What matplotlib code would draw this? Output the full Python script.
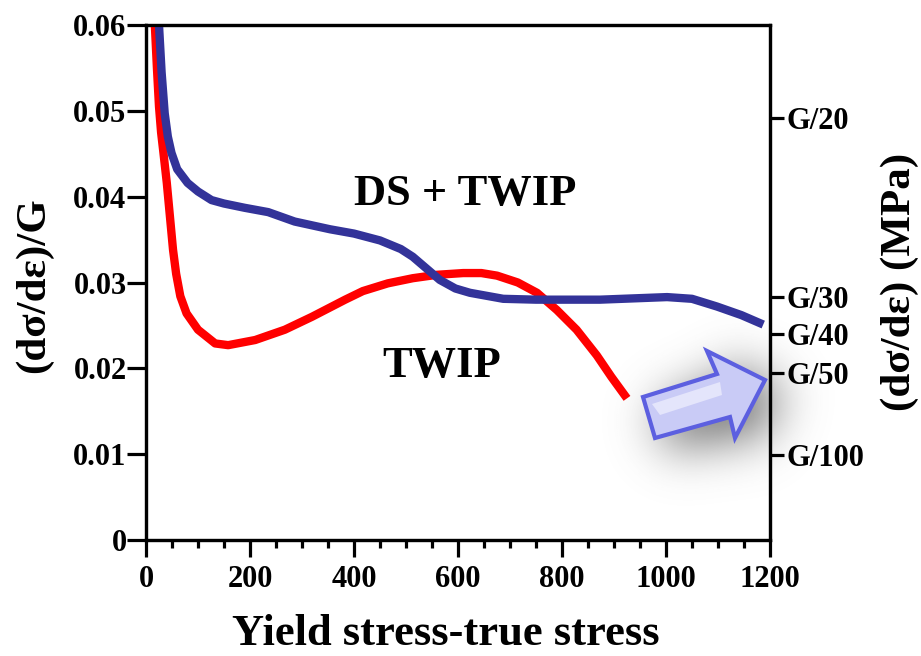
import numpy as np
import matplotlib
matplotlib.use("Agg")
import matplotlib.pyplot as plt
from matplotlib.path import Path
from matplotlib.patches import Polygon
from matplotlib.ticker import MultipleLocator

# ---- data ----
red_x = [17, 21, 25, 29, 33, 40, 46, 52, 58, 66, 78, 100, 133, 158, 210, 267, 319, 383, 417,
         465, 513, 560, 610, 645, 675, 715, 752, 790, 828, 867, 895, 925]
red_y = [0.060, 0.055, 0.0505, 0.0475, 0.0454, 0.0416, 0.0377, 0.0338, 0.0310, 0.0284, 0.0264,
         0.0245, 0.0229, 0.0227, 0.0233, 0.0245, 0.0260, 0.0280, 0.0290, 0.0299, 0.0305,
         0.0309, 0.0311, 0.0311, 0.0308, 0.0300, 0.0288, 0.0268, 0.0245, 0.0215, 0.0190, 0.0165]

blue_x = [25, 30, 36, 42, 49, 60, 80, 100, 126, 150, 190, 235, 286, 354, 400, 450, 490, 513,
          540, 565, 595, 623, 687, 750, 873, 1002, 1050, 1098, 1145, 1187]
blue_y = [0.060, 0.0545, 0.0497, 0.0470, 0.0451, 0.0432, 0.0416, 0.0406, 0.0396, 0.0392,
          0.0387, 0.0382, 0.0371, 0.0362, 0.0357, 0.0349, 0.0339, 0.0330, 0.0316, 0.0303, 0.0293,
          0.0288, 0.0281, 0.0280, 0.0280, 0.0283, 0.0281, 0.0272, 0.0262, 0.0251]

x_ticks = [0, 200, 400, 600, 800, 1000, 1200]
y_ticks = [0, 0.01, 0.02, 0.03, 0.04, 0.05, 0.06]
y_tick_labels = ["0", "0.01", "0.02", "0.03", "0.04", "0.05", "0.06"]
right_tick_pos = [0.0492, 0.0283, 0.0240, 0.0195, 0.0099]
right_tick_labels = ["G/20", "G/30", "G/40", "G/50", "G/100"]

W, H = 921, 656
SERIF = ["Liberation Serif", "DejaVu Serif"]
plt.rcParams["font.family"] = SERIF
plt.rcParams["font.weight"] = "bold"

fig = plt.figure(figsize=(W / 100, H / 100), dpi=100)

# background overlay (pixel coordinates) for the arrow shadow
bg = fig.add_axes([0, 0, 1, 1], zorder=0)
bg.axis("off")

arrow_pts = np.array([(643, 397), (717, 374), (707, 351), (765, 380),
                      (735, 438), (730, 417), (655, 438)], dtype=float)

step = 2
gx = np.arange(540, 900, step)
gy = np.arange(230, 600, step)
GX, GY = np.meshgrid(gx, gy)
shift = np.array([14, 10])
mask = Path(arrow_pts + shift).contains_points(np.c_[GX.ravel(), GY.ravel()]).reshape(GX.shape).astype(float)
sigma = 25 / step
k = np.arange(-int(3 * sigma), int(3 * sigma) + 1)
kern = np.exp(-k ** 2 / (2 * sigma ** 2))
kern /= kern.sum()
blur = np.apply_along_axis(lambda r: np.convolve(r, kern, mode="same"), 1, mask)
blur = np.apply_along_axis(lambda c: np.convolve(c, kern, mode="same"), 0, blur)
blur = blur / blur.max()
rgba = np.zeros(blur.shape + (4,))
rgba[..., :3] = 0.40
rgba[..., 3] = 0.72 * blur
bg.imshow(rgba, extent=(gx[0], gx[-1] + step, gy[-1] + step, gy[0]), interpolation="bilinear", aspect="auto")
bg.set_xlim(0, W)
bg.set_ylim(H, 0)

# main axes
ax = fig.add_axes([146 / W, 1 - 540 / H, (770 - 146) / W, (540 - 25) / H], zorder=1)
ax.patch.set_alpha(0)
ax.plot(red_x, red_y, color="#ff0000", lw=6, solid_capstyle="butt", solid_joinstyle="round", zorder=3)
ax.plot(blue_x, blue_y, color="#333399", lw=6, solid_capstyle="butt", solid_joinstyle="round", zorder=3)
ax.set_xlim(0, 1200)
ax.set_ylim(0, 0.06)

for s in ax.spines.values():
    s.set_linewidth(2.3)

ax.set_xticks(x_ticks)
ax.set_xticklabels([str(v) for v in x_ticks])
ax.xaxis.set_minor_locator(MultipleLocator(50))
ax.set_yticks(y_ticks)
ax.set_yticklabels(y_tick_labels)
ax.tick_params(axis="x", which="major", direction="out", length=12, width=2.3, labelsize=22, pad=6)
ax.tick_params(axis="x", which="minor", direction="out", length=6, width=2.3)
ax.tick_params(axis="y", which="major", direction="out", length=14, width=2.3, labelsize=22, pad=0)
for lbl in ax.get_xticklabels() + ax.get_yticklabels():
    lbl.set_fontweight("bold")

ax.set_xlabel("Yield stress-true stress", fontsize=32, fontweight="bold")
ax.xaxis.label.set_va("baseline")
ax.xaxis.set_label_coords((446 - 146) / 624, (540 - 645) / 515)
ax.set_ylabel("(dσ/dε)/G", fontsize=31, fontweight="bold")
ax.yaxis.label.set_va("center")
ax.yaxis.set_label_coords((34 - 146) / 624, (540 - 285) / 515)

ax.text(613, 0.0390, "DS + TWIP", fontsize=32, fontweight="bold", ha="center", va="baseline")
ax.text(569, 0.0190, "TWIP", fontsize=32, fontweight="bold", ha="center", va="baseline")

ax2 = ax.twinx()
ax2.set_ylim(0, 0.06)
ax2.set_yticks(right_tick_pos)
ax2.set_yticklabels(right_tick_labels)
ax2.tick_params(axis="y", direction="out", length=10, width=2.3, labelsize=22, pad=2)
for lbl in ax2.get_yticklabels():
    lbl.set_fontweight("bold")
for s in ax2.spines.values():
    s.set_linewidth(2.3)
ax2.set_ylabel("(dσ/dε) (MPa)", fontsize=31, fontweight="bold")
ax2.yaxis.label.set_va("center")
ax2.yaxis.set_label_coords((900 - 146) / 624, (540 - 282) / 515)
ax2.patch.set_alpha(0)

# arrow on top overlay
top = fig.add_axes([0, 0, 1, 1], zorder=5)
top.set_xlim(0, W)
top.set_ylim(H, 0)
top.axis("off")
top.add_patch(Polygon(arrow_pts, closed=True, facecolor="#c9cbf6", edgecolor="#5c5fe0", lw=3, joinstyle="miter"))
inner = np.array([(652, 404), (720, 382), (722, 395), (660, 415)])
top.add_patch(Polygon(inner, closed=True, facecolor="#e4e5fb", edgecolor="none"))

fig.savefig("out.png", dpi=100)
